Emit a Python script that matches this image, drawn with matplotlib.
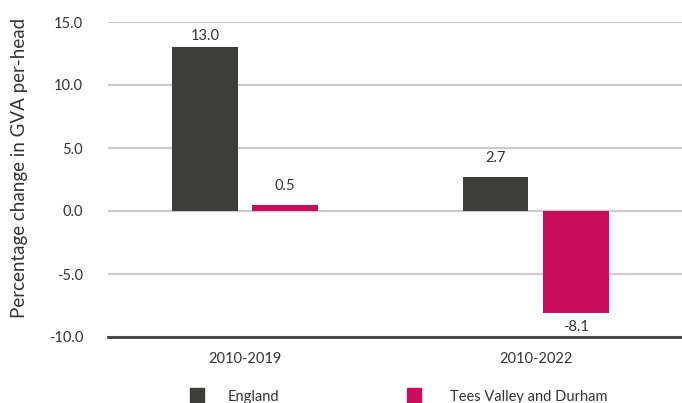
import matplotlib
matplotlib.use('Agg')
import matplotlib.pyplot as plt
from matplotlib.patches import Rectangle

# Data
periods = ['2010-2019', '2010-2022']
england = [13.0, 2.7]
tees_valley = [0.5, -8.1]
series_names = ['England', 'Tees Valley and Durham']
colors = ['#3d3d3c', '#c90c5c']

plt.rcParams['font.family'] = ['Lato', 'DejaVu Sans']

W, H = 682, 403
fig = plt.figure(figsize=(W / 100, H / 100), dpi=100)
ax = fig.add_axes([108 / W, 1 - 337 / H, 1 - 108 / W, 315 / H])

width = 0.227
offset = 0.138
x = list(range(len(periods)))

for vals, off, col in [(england, -offset, colors[0]), (tees_valley, offset, colors[1])]:
    xs = [i + off for i in x]
    ax.bar(xs, vals, width=width, color=col, zorder=3)
    for xi, v in zip(xs, vals):
        if v >= 0:
            y = min(v + 1.5, 13.9)
        else:
            y = v - 1.1
        ax.text(xi, y, f'{v:.1f}', ha='center', va='center', fontsize=10.5, color='#333333')

ax.set_xlim(-0.472, 1.504)
ax.set_ylim(-10, 15)
ticks = [-10, -5, 0, 5, 10, 15]
ax.set_yticks(ticks)
ax.set_yticklabels([f'{t:.1f}' for t in ticks])
ax.set_xticks(x)
ax.set_xticklabels(periods)
ax.tick_params(axis='both', length=0, labelsize=10.5, colors='#333333')
ax.tick_params(axis='x', pad=11)
ax.tick_params(axis='y', pad=18)

ax.grid(axis='y', color='#cccccc', linewidth=1.6, zorder=0)
for s in ['top', 'right', 'left']:
    ax.spines[s].set_visible(False)
ax.spines['bottom'].set_color('#404040')
ax.spines['bottom'].set_linewidth(2)
ax.spines['bottom'].set_zorder(4)

fig.text(20 / W, 1 - 168 / H, 'Percentage change in GVA per-head', rotation=90,
         ha='center', va='center', fontsize=13.5, color='#333333')

# legend drawn by hand, partly cut off at the bottom like the reference
for name, col, sx, tx in [(series_names[0], colors[0], 190, 228),
                          (series_names[1], colors[1], 407, 450)]:
    fig.patches.append(Rectangle((sx / W, 1 - 403 / H), 14 / W, 15 / H,
                                 transform=fig.transFigure, color=col))
    fig.text(tx / W, 1 - 397 / H, name, ha='left', va='center', fontsize=10.5, color='#333333')

fig.savefig('out.png', dpi=100)
